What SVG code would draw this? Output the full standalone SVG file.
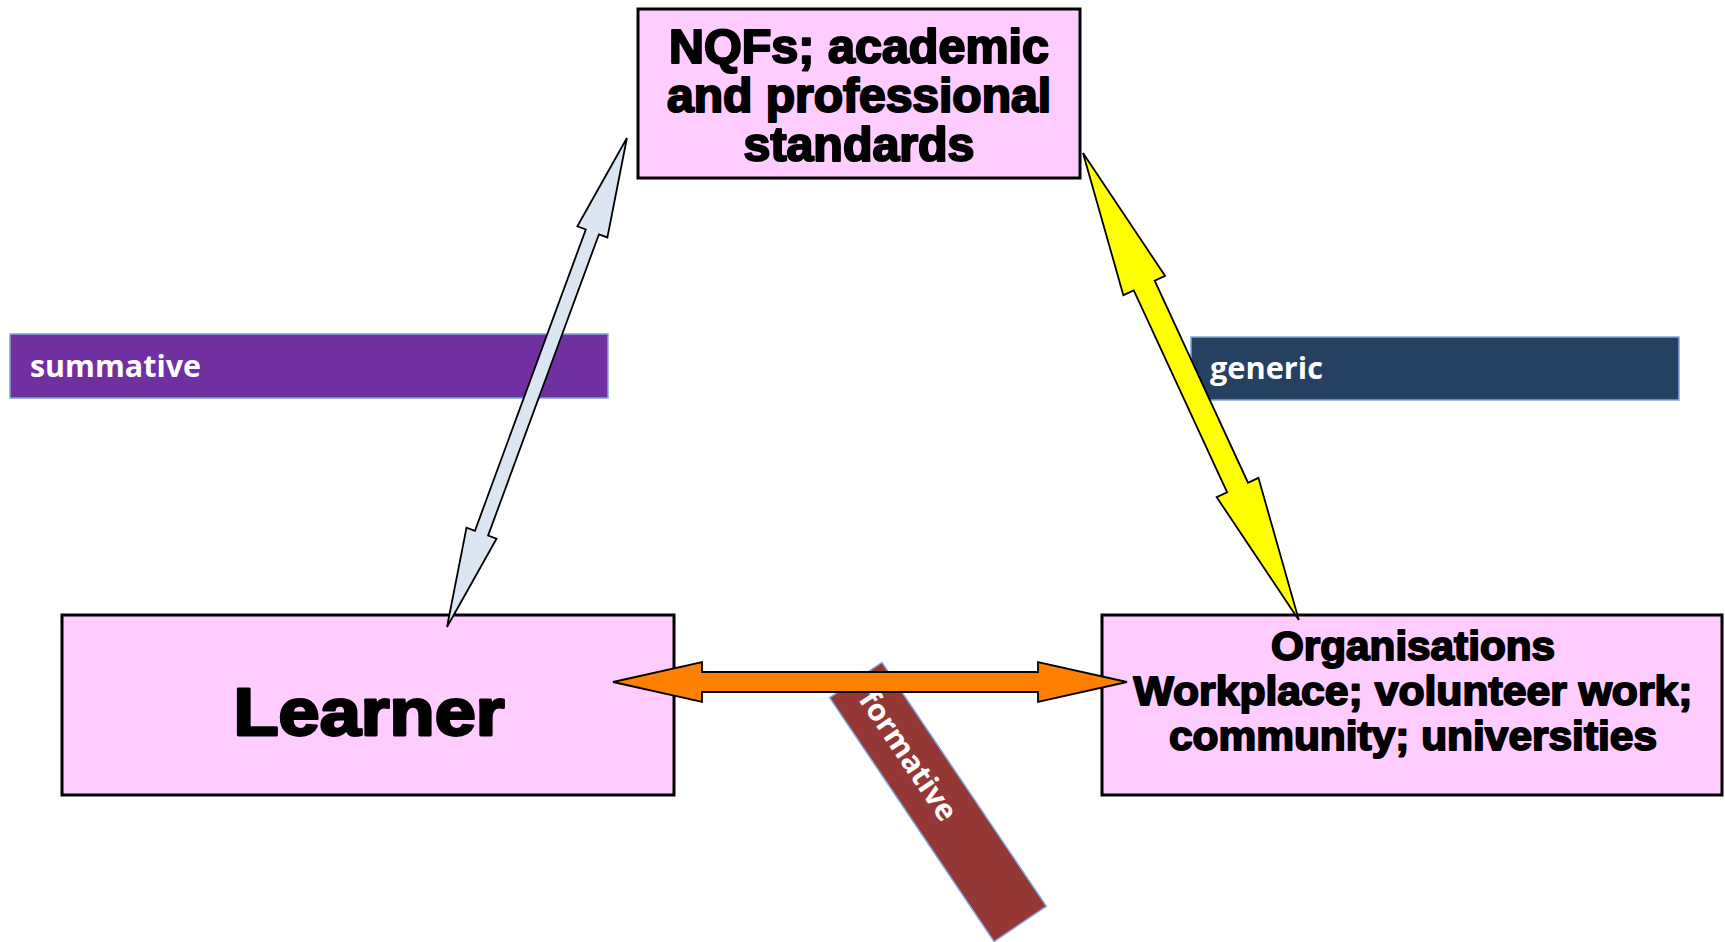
<svg xmlns="http://www.w3.org/2000/svg" width="1725" height="942" viewBox="0 0 1725 942">
<style>
.box{fill:#ffccff;stroke:#000;stroke-width:3}
.heavy{font-family:"Liberation Sans",Arial,sans-serif;font-weight:bold;fill:#000;stroke:#000;stroke-linejoin:round;text-anchor:middle}
.lbl{font-family:"Open Sans","Liberation Sans",sans-serif;font-weight:bold;fill:#fff}
.bar{stroke:#7ea6dc;stroke-width:1.5}
.arr{stroke:#000;stroke-width:1.8;stroke-linejoin:miter}
</style>
<rect width="1725" height="942" fill="#fff"/>
<g id="node-standards">
<rect class="box" x="638" y="9" width="442" height="169"/>
<text class="heavy" font-size="48" stroke-width="2.2" x="859" y="63" textLength="380" lengthAdjust="spacingAndGlyphs">NQFs; academic</text>
<text class="heavy" font-size="48" stroke-width="2.2" x="859" y="112" textLength="384" lengthAdjust="spacingAndGlyphs">and professional</text>
<text class="heavy" font-size="48" stroke-width="2.2" x="859" y="161" textLength="231" lengthAdjust="spacingAndGlyphs">standards</text>
</g>
<g id="node-learner">
<rect class="box" x="62" y="615" width="612" height="180"/>
<text class="heavy" font-size="66" stroke-width="2.8" x="369" y="735" textLength="271" lengthAdjust="spacingAndGlyphs">Learner</text>
</g>
<g id="node-organisations">
<rect class="box" x="1102" y="615" width="620" height="180"/>
<text class="heavy" font-size="41" stroke-width="1.9" x="1413" y="660" textLength="284" lengthAdjust="spacingAndGlyphs">Organisations</text>
<text class="heavy" font-size="41" stroke-width="1.9" x="1413" y="705" textLength="559" lengthAdjust="spacingAndGlyphs">Workplace; volunteer work;</text>
<text class="heavy" font-size="41" stroke-width="1.9" x="1413" y="750" textLength="488" lengthAdjust="spacingAndGlyphs">community; universities</text>
</g>
<g id="label-summative">
<rect class="bar" x="10" y="334" width="598" height="64" fill="#7030a0"/>
<text class="lbl" font-size="30" x="30" y="377" textLength="171" lengthAdjust="spacingAndGlyphs">summative</text>
</g>
<g id="label-generic">
<rect class="bar" x="1191" y="337" width="488" height="63" fill="#254061"/>
<text class="lbl" font-size="30" x="1210" y="379" textLength="113" lengthAdjust="spacingAndGlyphs">generic</text>
</g>
<g id="label-formative" transform="translate(938,802) rotate(56)">
<rect class="bar" x="-147" y="-31.5" width="294" height="63" fill="#953735"/>
<text class="lbl" font-size="30" x="-130" y="9" textLength="150" lengthAdjust="spacingAndGlyphs">formative</text>
</g>
<g id="connectors">
<polygon class="arr" fill="#dce6f2" transform="translate(447,627) rotate(-69.8)" points="0,0 100,-16 100,-7 421,-7 421,-16 521,0 421,16 421,7 100,7 100,16"/>
<polygon class="arr" fill="#ffff00" transform="translate(1083,153) rotate(65.2)" points="0,0 146,-23 146,-11.5 368.5,-11.5 368.5,-23 514.5,0 368.5,23 368.5,11.5 146,11.5 146,23"/>
<polygon class="arr" fill="#ff7f00" points="613,682 702,662 702,672 1038,672 1038,662 1127,682 1038,702 1038,692 702,692 702,702"/>
</g>
</svg>
